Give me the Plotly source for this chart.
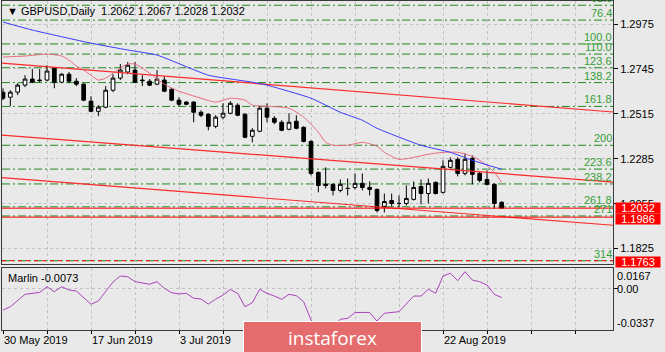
import plotly.graph_objects as go

# ---------------- data ----------------
bar_index = list(range(69))
open_ = [1.2626, 1.2600, 1.2626, 1.2662, 1.2693, 1.2688, 1.2688, 1.2749, 1.2677, 1.2718,
         1.2682, 1.2667, 1.2580, 1.2528, 1.2549, 1.2636, 1.2698, 1.2729, 1.2739, 1.2688,
         1.2682, 1.2667, 1.2688, 1.2641, 1.2585, 1.2575, 1.2575, 1.2523, 1.2513, 1.2451,
         1.2498, 1.2518, 1.2559, 1.2513, 1.2400, 1.2426, 1.2544, 1.2492, 1.2472, 1.2436,
         1.2477, 1.2446, 1.2374, 1.2215, 1.2154, 1.2154, 1.2123, 1.2133, 1.2138, 1.2159,
         1.2138, 1.2128, 1.2041, 1.2071, 1.2056, 1.2056, 1.2077, 1.2143, 1.2107, 1.2164,
         1.2113, 1.2241, 1.2282, 1.2210, 1.2287, 1.2210, 1.2179, 1.2154, 1.2062]
high = [1.2646, 1.2636, 1.2672, 1.2713, 1.2744, 1.2744, 1.2764, 1.2754, 1.2723, 1.2729,
        1.2698, 1.2672, 1.2605, 1.2559, 1.2657, 1.2718, 1.2770, 1.2780, 1.2780, 1.2713,
        1.2693, 1.2739, 1.2708, 1.2646, 1.2600, 1.2580, 1.2580, 1.2533, 1.2518, 1.2508,
        1.2569, 1.2580, 1.2569, 1.2518, 1.2441, 1.2554, 1.2569, 1.2503, 1.2482, 1.2518,
        1.2508, 1.2451, 1.2379, 1.2220, 1.2241, 1.2159, 1.2179, 1.2184, 1.2210, 1.2210,
        1.2169, 1.2133, 1.2107, 1.2107, 1.2097, 1.2148, 1.2169, 1.2179, 1.2184, 1.2169,
        1.2277, 1.2292, 1.2292, 1.2313, 1.2302, 1.2220, 1.2225, 1.2159, 1.2067]
low = [1.2585, 1.2554, 1.2611, 1.2652, 1.2672, 1.2677, 1.2682, 1.2646, 1.2672, 1.2672,
       1.2657, 1.2580, 1.2523, 1.2503, 1.2544, 1.2626, 1.2688, 1.2718, 1.2672, 1.2657,
       1.2657, 1.2662, 1.2626, 1.2580, 1.2554, 1.2559, 1.2472, 1.2498, 1.2431, 1.2441,
       1.2487, 1.2513, 1.2503, 1.2390, 1.2369, 1.2421, 1.2472, 1.2462, 1.2426, 1.2431,
       1.2436, 1.2369, 1.2200, 1.2113, 1.2133, 1.2097, 1.2113, 1.2097, 1.2128, 1.2123,
       1.2097, 1.2010, 1.2010, 1.2041, 1.2036, 1.2046, 1.2071, 1.2051, 1.2056, 1.2102,
       1.2107, 1.2236, 1.2195, 1.2200, 1.2154, 1.2164, 1.2148, 1.2030, 1.2028]
close = [1.2595, 1.2626, 1.2662, 1.2693, 1.2677, 1.2685, 1.2734, 1.2677, 1.2718, 1.2682,
         1.2667, 1.2585, 1.2528, 1.2549, 1.2636, 1.2698, 1.2739, 1.2764, 1.2677, 1.2685,
         1.2662, 1.2693, 1.2631, 1.2585, 1.2564, 1.2564, 1.2523, 1.2508, 1.2451, 1.2498,
         1.2518, 1.2569, 1.2508, 1.2395, 1.2431, 1.2544, 1.2498, 1.2472, 1.2431, 1.2472,
         1.2441, 1.2374, 1.2210, 1.2148, 1.2148, 1.2123, 1.2154, 1.2133, 1.2159, 1.2138,
         1.2128, 1.2020, 1.2066, 1.2056, 1.2056, 1.2082, 1.2138, 1.2107, 1.2159, 1.2107,
         1.2246, 1.2277, 1.2210, 1.2282, 1.2205, 1.2174, 1.2154, 1.2056, 1.2032]

fast_ma_idx = [0, 3, 6, 8, 9, 10, 11, 12, 13, 14, 15, 16, 17, 18, 19, 20, 22, 24, 27, 29,
               31, 33, 34, 36, 39, 41, 43, 44, 45, 47, 49, 51, 52, 54, 56, 58, 60, 62, 64,
               65, 66, 67, 68]
fast_ma = [1.2806, 1.2811, 1.2821, 1.2811, 1.2790, 1.2760, 1.2739, 1.2713, 1.2688, 1.2698,
           1.2723, 1.2749, 1.2770, 1.2770, 1.2749, 1.2723, 1.2667, 1.2631, 1.2595, 1.2575,
           1.2595, 1.2585, 1.2559, 1.2554, 1.2544, 1.2498, 1.2421, 1.2369, 1.2354, 1.2354,
           1.2369, 1.2349, 1.2318, 1.2282, 1.2292, 1.2308, 1.2318, 1.2318, 1.2297, 1.2277,
           1.2251, 1.2215, 1.2164]

slow_ma_idx = [0, 4, 12, 17, 21, 28, 34, 36, 42, 46, 49, 51, 57, 61, 64, 68]
slow_ma = [1.2985, 1.2944, 1.2877, 1.2842, 1.2816, 1.2713, 1.2677, 1.2662, 1.2595, 1.2523,
           1.2482, 1.2441, 1.2354, 1.2318, 1.2277, 1.2231]

marlin_idx = [0, 1, 3, 4, 5, 6, 7, 8, 9, 10, 12, 13, 14, 15, 16, 17, 18, 19, 20, 21, 22, 23,
              24, 25, 26, 27, 28, 29, 30, 31, 32, 33, 34, 35, 36, 37, 38, 39, 40, 41, 42, 43,
              44, 45, 46, 47, 48, 49, 50, 51, 52, 54, 56, 57, 58, 59, 60, 61, 62, 63, 64, 65,
              66, 67, 68]
marlin = [-0.0174, -0.0148, -0.0047, -0.0039, -0.0031, 0.0015, -0.0026, 0.0015, -0.0012,
          -0.0020, -0.0128, -0.0101, -0.0020, 0.0053, 0.0102, 0.0096, 0.0056, 0.0048, 0.0035,
          0.0056, 0.0002, -0.0034, -0.0044, -0.0039, -0.0079, -0.0085, -0.0126, -0.0087,
          -0.0053, -0.0008, -0.0039, -0.0148, -0.0115, -0.0006, -0.0039, -0.0061, -0.0087,
          -0.0047, -0.0058, -0.0107, -0.0256, -0.0321, -0.0337, -0.0305, -0.0250, -0.0242,
          -0.0196, -0.0194, -0.0195, -0.0264, -0.0201, -0.0188, -0.0061, -0.0061, -0.0006,
          -0.0039, 0.0102, 0.0124, 0.0064, 0.0137, 0.0069, 0.0055, 0.0029, -0.0047, -0.0073]

channel_idx = [-1, 84]
channel_upper = [1.2777, 1.2522]
channel_mid = [1.2409, 1.2163]
channel_low = [1.2191, 1.1942]

fib_labels = ["61.8", "76.4", "100.0", "110.0", "123.6", "138.2", "161.8", "200",
              "223.6", "238.2", "261.8", "271", "314"]
fib_prices = [1.3071, 1.2995, 1.2873, 1.2821, 1.2751, 1.2675, 1.2553, 1.2354,
              1.2232, 1.2156, 1.2039, 1.1992, 1.1763]

hline_prices = [1.2032, 1.1986, 1.1763]
price_ticks = [1.1825, 1.2055, 1.2285, 1.2515, 1.2745, 1.2975]
marlin_ticks = [0.0167, 0.0, -0.0337]
marlin_tick_text = ["0.0167", "0.00", "-0.0337"]
grid_idx = list(range(0, 84, 6))
# date labels that are visible (the others sit under the logo in the reference)
date_tick_idx = [0, 12, 24, 60]
date_tick_text = ["30 May 2019", "17 Jun 2019", "3 Jul 2019", "22 Aug 2019"]

# ---------------- layout geometry ----------------
W, H = 665, 352
ML, MR, MT, MB = 2, 52, 1, 22
PLOT_H = H - MT - MB  # 329


def py(ypx):
    return (H - MB - ypx) / PLOT_H


FONT = "Liberation Sans, Arial, sans-serif"
BG = "#e9e9e9"
GRID = "#c2c2c2"
FRAME = "#3a3a3a"
XR = [-0.136, 83.18]

fig = go.Figure()

fig.add_trace(go.Candlestick(
    x=bar_index, open=open_, high=high, low=low, close=close,
    increasing=dict(fillcolor="white", line=dict(color="black", width=1)),
    decreasing=dict(fillcolor="black", line=dict(color="black", width=1)),
    whiskerwidth=0, showlegend=False, hoverinfo="skip", xaxis="x", yaxis="y"))

for ch in (channel_upper, channel_mid, channel_low):
    fig.add_trace(go.Scatter(x=channel_idx, y=ch, mode="lines",
                             line=dict(color="#ff2a2a", width=1.2),
                             showlegend=False, hoverinfo="skip", xaxis="x", yaxis="y"))

fig.add_trace(go.Scatter(x=fast_ma_idx, y=fast_ma, mode="lines",
                         line=dict(color="#ea6a80", width=1, shape="spline", smoothing=0.6),
                         showlegend=False, hoverinfo="skip", xaxis="x", yaxis="y"))
fig.add_trace(go.Scatter(x=slow_ma_idx, y=slow_ma, mode="lines",
                         line=dict(color="#3a3aff", width=1, shape="spline", smoothing=0.5),
                         showlegend=False, hoverinfo="skip", xaxis="x", yaxis="y"))
fig.add_trace(go.Scatter(x=marlin_idx, y=marlin, mode="lines",
                         line=dict(color="#aa44bb", width=1),
                         showlegend=False, hoverinfo="skip", xaxis="x2", yaxis="y2"))

shapes = []
for p in fib_prices:
    shapes.append(dict(type="line", xref="paper", x0=0, x1=1, yref="y", y0=p, y1=p,
                       line=dict(color="#1f8a1f", width=1, dash="8px,3px,2px,3px"),
                       layer="below"))
for k, p in enumerate(hline_prices):
    shapes.append(dict(type="line", xref="paper", x0=0, x1=1, yref="y", y0=p, y1=p,
                       line=dict(color="#ff0000", width=1,
                                 dash="solid" if k < 2 else "4px,4px"),
                       layer="above"))

ann = []
# title
ann.append(dict(xref="paper", yref="paper", x=0, y=py(11), xanchor="left", yanchor="middle",
                xshift=3, showarrow=False,
                text="▼ GBPUSD,Daily  %.4f %.4f %.4f %.4f" % (open_[-1], high[-1], low[-1], close[-1]),
                font=dict(family=FONT, size=11, color="black")))
# fib labels
for lab, p in zip(fib_labels, fib_prices):
    ann.append(dict(xref="paper", yref="y", x=1, y=p, xanchor="right", yanchor="bottom",
                    showarrow=False, text=lab, borderpad=0, yshift=0,
                    font=dict(family=FONT, size=11, color="#35a035")))
# red price labels
shifts = [0, -1.5, -1]
for p, s in zip(hline_prices, shifts):
    ann.append(dict(xref="paper", yref="y", x=1, y=p, xanchor="left", yanchor="middle",
                    xshift=2, yshift=s, showarrow=False, text="%.4f" % p,
                    bgcolor="#ff0000", width=44, height=10, borderpad=0,
                    font=dict(family=FONT, size=11, color="white")))
# Marlin label
ann.append(dict(xref="paper", yref="paper", x=0, y=py(278), xanchor="left", yanchor="middle",
                xshift=4, showarrow=False, text="Marlin %.4f" % marlin[-1],
                font=dict(family=FONT, size=11, color="black")))
# Marlin axis labels
for v, t, s in zip(marlin_ticks, marlin_tick_text, [-8, 0, 7]):
    ann.append(dict(xref="paper", yref="y2", x=1, y=v, xanchor="left", yanchor="middle",
                    xshift=2, yshift=s, showarrow=False, text=t,
                    font=dict(family=FONT, size=11, color="black")))
# date labels
for i, t in zip(date_tick_idx, date_tick_text):
    ann.append(dict(xref="x2", yref="paper", x=i, y=py(340), xanchor="left", yanchor="middle",
                    showarrow=False, text=t, xshift=-1,
                    font=dict(family=FONT, size=11, color="black")))
# logo
ann.append(dict(xref="paper", yref="paper", x=(332.5 - ML) / (W - ML - MR), y=py(337),
                xanchor="center", yanchor="middle", showarrow=False, text="instaforex",
                width=177, height=31, bgcolor="#e46c6c", bordercolor="#ffffff",
                borderwidth=1, borderpad=0,
                font=dict(family="Open Sans, sans-serif", size=19, color="white")))

axis_common = dict(showline=True, mirror=True, linecolor=FRAME, linewidth=1,
                   zeroline=False, showgrid=True, gridcolor=GRID, griddash="dot",
                   gridwidth=1)

fig.update_layout(
    width=W, height=H, margin=dict(l=ML, r=MR, t=MT, b=MB, autoexpand=False),
    paper_bgcolor=BG, plot_bgcolor=BG, boxgap=0.28,
    xaxis=dict(domain=[0, 1], anchor="y", range=XR, tickvals=grid_idx,
               showticklabels=False, ticks="", rangeslider=dict(visible=False),
               **axis_common),
    yaxis=dict(domain=[py(264), 1], anchor="x", side="right", range=[1.17461, 1.30928],
               tickvals=price_ticks, ticktext=["%.4f" % v for v in price_ticks],
               ticks="outside", ticklen=4, tickcolor="black",
               tickfont=dict(family=FONT, size=11, color="black"), **axis_common),
    xaxis2=dict(domain=[0, 1], anchor="y2", range=XR, tickvals=grid_idx,
                showticklabels=False, ticks="outside", ticklen=3, tickcolor="black",
                **axis_common),
    yaxis2=dict(domain=[0, py(268)], anchor="x2", side="right", range=[-0.0337, 0.0167],
                tickvals=[0.0], showticklabels=False, ticks="outside", ticklen=4,
                tickcolor="black", **axis_common),
    shapes=shapes, annotations=ann, showlegend=False,
)

fig.write_html("out.html")
